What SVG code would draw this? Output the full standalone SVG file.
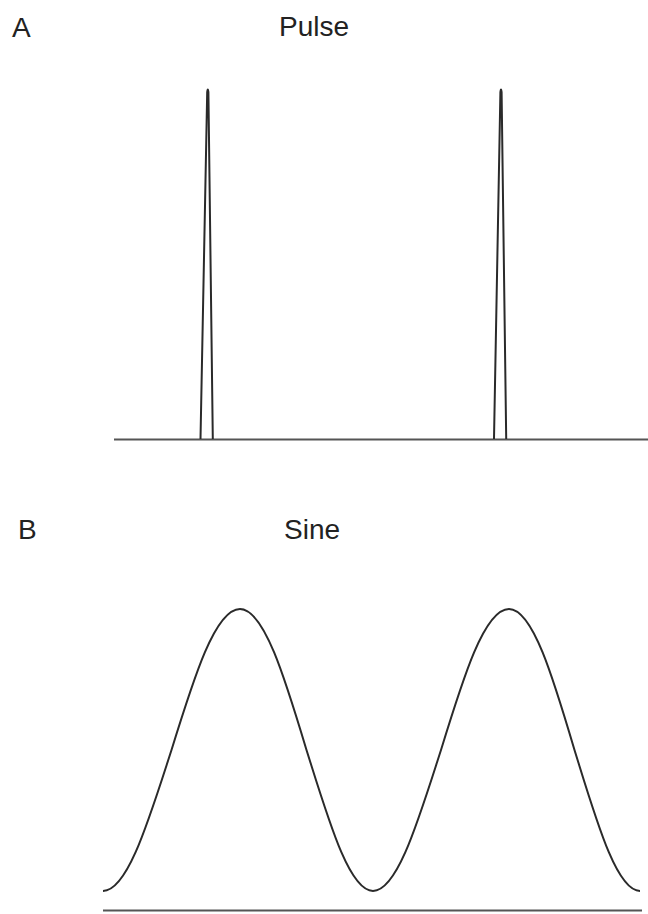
<svg xmlns="http://www.w3.org/2000/svg" width="648" height="914" viewBox="0 0 648 914">
  <style>
    .lbl { font-family: "Liberation Sans", Arial, sans-serif; font-size: 28px; fill: #222; }
    .wave { fill: none; stroke: #2a2a2a; stroke-width: 2; stroke-linejoin: round; }
    .axis { fill: none; stroke: #555; stroke-width: 2.2; }
  </style>
  <rect width="648" height="914" fill="#fff"/>
  <g id="panelA">
    <text class="lbl" x="12" y="37">A</text>
    <text class="lbl" x="279" y="36">Pulse</text>
    <line class="axis" x1="114" y1="439.5" x2="648" y2="439.5"/>
    <path class="wave" d="M200.5,439 L207.2,92 Q207.8,87 208.4,92 L212.8,439"/>
    <path class="wave" d="M494,439 L500.4,92 Q501,87 501.6,92 L506.2,439"/>
  </g>
  <g id="panelB">
    <text class="lbl" x="18" y="539">B</text>
    <text class="lbl" x="284" y="539">Sine</text>
    <line class="axis" x1="103" y1="910.5" x2="642" y2="910.5"/>
    <path class="wave" d="M103,891 C127.79,891 149.16,818.77 171.5,750 C193.84,677.77 215.21,609 240,609 C264.07,609 284.81,677.77 306.5,750 C328.19,818.77 348.93,891 373,891 C397.61,891 418.82,818.77 441,750 C463.18,677.77 484.39,609 509,609 C532.71,609 553.14,677.77 574.5,750 C595.86,818.77 616.29,891 640,891"/>
  </g>
</svg>
